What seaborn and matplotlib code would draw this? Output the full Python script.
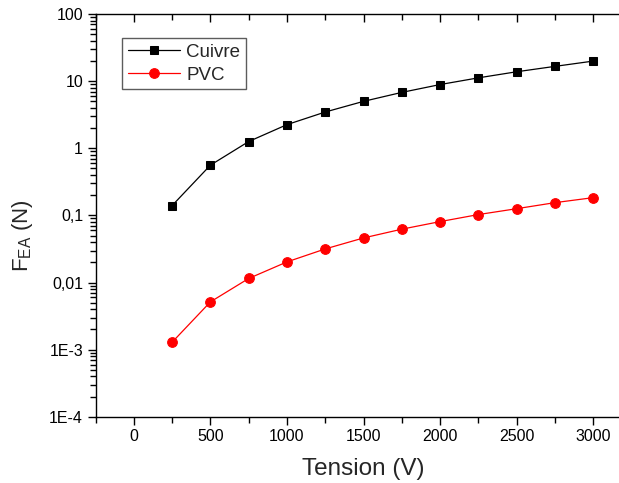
import matplotlib
matplotlib.use("Agg")
import matplotlib.pyplot as plt
import seaborn as sns
import pandas as pd

tension = [250, 500, 750, 1000, 1250, 1500, 1750, 2000, 2250, 2500, 2750, 3000]
cuivre = [0.14, 0.56, 1.26, 2.25, 3.47, 5.0, 6.8, 8.9, 11.2, 13.8, 16.6, 19.9]
pvc = [0.00129, 0.00515, 0.0115, 0.0203, 0.0317, 0.0462, 0.0624, 0.0809, 0.103, 0.126, 0.155, 0.184]

xticks = [0, 500, 1000, 1500, 2000, 2500, 3000]
yticks = [1e-4, 1e-3, 1e-2, 1e-1, 1, 10, 100]
yticklabels = ["1E-4", "1E-3", "0,01", "0,1", "1", "10", "100"]

df = pd.DataFrame({
    "Tension": tension * 2,
    "F": cuivre + pvc,
    "Serie": ["Cuivre"] * len(tension) + ["PVC"] * len(tension),
})

sns.set_style("ticks")
plt.rcParams["font.family"] = ["Liberation Sans", "DejaVu Sans"]
plt.rcParams["mathtext.fontset"] = "custom"
plt.rcParams["mathtext.rm"] = "Liberation Sans"
plt.rcParams["mathtext.it"] = "Liberation Sans"
plt.rcParams.update({"xtick.color": "black", "ytick.color": "black"})

fig = plt.figure(figsize=(6.19, 4.83), dpi=100)
ax = fig.add_axes([0.1543, 0.137, 0.866, 0.834])

sns.lineplot(data=df[df.Serie == "Cuivre"], x="Tension", y="F", ax=ax,
             color="black", marker="s", markersize=6, linewidth=0.9,
             markeredgecolor="black", label="Cuivre")
sns.lineplot(data=df[df.Serie == "PVC"], x="Tension", y="F", ax=ax,
             color="red", marker="o", markersize=7, linewidth=0.9,
             markeredgecolor="red", label="PVC")

ax.set_yscale("log")
ax.set_xlim(-250, 3250)
ax.set_ylim(1e-4, 100)

minor_x = [-250 + 500 * i for i in range(8)]
minor_y = [m * t for t in yticks[:-1] for m in range(2, 10)]
ax.set_xticks(xticks)
ax.set_xticklabels([str(t) for t in xticks])
ax.set_xticks(minor_x, minor=True)
ax.set_yticks(yticks)
ax.set_yticklabels(yticklabels)
ax.set_yticks(minor_y, minor=True)
ax.set_yticklabels([], minor=True)

for s in ["left", "bottom", "top", "right"]:
    ax.spines[s].set_linewidth(1.0)
    ax.spines[s].set_color("black")
ax.spines["right"].set_visible(False)
ax.spines["top"].set_visible(False)

ax.tick_params(axis="both", which="major", direction="out", length=6, width=1,
               labelsize=11.5, colors="black", top=False, right=False, pad=3)
ax.tick_params(axis="both", which="minor", direction="out", length=4, width=1,
               colors="black", top=False, right=False, left=True, bottom=True)

sec = ax.secondary_xaxis("top")
sec.set_xticks(xticks)
sec.set_xticklabels([])
sec.set_xticks(minor_x, minor=True)
sec.tick_params(which="major", direction="in", length=6, width=1, labeltop=False, colors="black")
sec.tick_params(which="minor", direction="in", length=4, width=1, colors="black")
sec.spines["top"].set_linewidth(1.0)
sec.spines["top"].set_color("black")

ax.set_xlabel("Tension (V)", fontsize=17.5, labelpad=10)
ax.set_ylabel(r"F$_{\mathregular{EA}}$ (N)", fontsize=16)
ax.yaxis.set_label_coords(-0.112, 0.45)

leg = ax.legend(loc="upper left", bbox_to_anchor=(0.05, 0.94), fontsize=13.5,
                frameon=True, fancybox=False, edgecolor="#333333",
                handlelength=2.8, borderpad=0.3, labelspacing=0.3,
                handletextpad=0.3, borderaxespad=0)
leg.get_frame().set_linewidth(1.0)

fig.savefig("out.png", dpi=100)
